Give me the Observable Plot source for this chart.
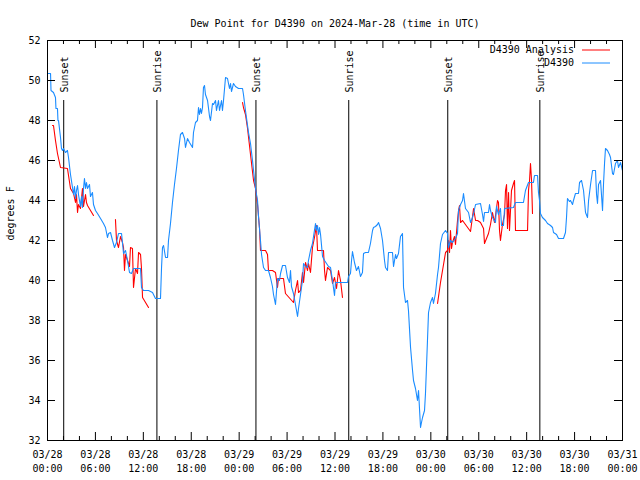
<!DOCTYPE html>
<html>
<head>
<meta charset="utf-8">
<script src="https://cdn.jsdelivr.net/npm/d3@7"></script>
<script src="https://cdn.jsdelivr.net/npm/@observablehq/plot@0.6"></script>
<style>
  html, body { margin: 0; padding: 0; background: #fff; }
</style>
</head>
<body>
<div id="chart"></div>
<script>
// ---- Data (hours since 2024-03-28 00:00 UTC, degrees F) ----
const titleText = "Dew Point for D4390 on 2024-Mar-28 (time in UTC)";
const yLabel = "degrees F";
const seriesNames = ["D4390 Analysis", "D4390"];

const obsHours = [0,0.38,0.44,0.75,1.0,1.06,1.25,1.31,1.38,1.63,1.75,1.88,2.0,2.25,2.5,2.63,2.88,3.13,3.26,3.38,3.51,3.63,3.76,3.88,4.13,4.26,4.38,4.51,4.63,4.76,4.88,5.01,5.26,5.38,5.63,5.76,6.01,6.26,6.64,7.01,7.26,7.51,7.64,7.89,8.14,8.39,8.64,8.89,9.27,9.52,9.77,10.02,10.27,10.52,10.77,11.27,11.65,11.77,12.02,12.65,13.15,13.52,14.15,14.28,14.4,14.53,14.78,15.03,15.15,15.4,15.65,15.9,16.15,16.4,16.65,16.9,17.16,17.28,17.53,17.78,18.16,18.28,18.53,18.78,18.91,19.03,19.16,19.28,19.41,19.53,19.66,19.78,20.04,20.29,20.41,20.66,20.79,21.04,21.16,21.41,21.54,21.79,21.91,22.04,22.29,22.54,22.79,22.92,23.04,23.29,23.54,23.92,24.42,24.54,24.79,25.17,25.42,25.67,25.8,26.05,26.3,26.42,26.67,26.8,27.05,27.3,27.67,27.92,28.17,28.3,28.55,28.8,29.05,29.18,29.43,29.8,30.05,30.3,30.43,30.55,30.8,31.05,31.31,31.43,31.68,31.93,32.06,32.31,32.56,32.68,32.93,33.18,33.31,33.56,33.68,33.81,33.94,34.06,34.19,34.44,34.69,34.94,35.19,35.44,35.69,35.94,36.06,37.57,37.69,37.94,38.07,38.19,38.44,38.69,38.94,39.19,39.44,39.57,39.82,40.19,40.44,40.7,40.82,41.07,41.32,41.45,41.7,41.95,42.2,42.32,42.57,42.7,43.2,43.33,43.58,43.7,43.95,44.2,44.45,44.58,44.83,45.08,45.2,45.46,45.71,45.83,46.08,46.33,46.46,46.58,46.71,46.83,46.96,47.21,47.33,47.58,47.71,47.96,48.21,48.33,48.58,48.84,48.96,49.21,49.46,49.84,50.09,50.21,50.46,50.71,51.09,51.34,51.47,51.72,51.97,52.09,52.34,52.72,52.97,53.22,53.35,53.6,54.22,54.47,54.6,54.72,55.22,55.35,55.47,55.72,56.1,56.22,56.47,56.72,56.85,57.1,57.23,58.35,58.6,59.6,59.85,60.23,60.85,60.98,61.36,61.48,61.61,61.73,61.98,62.36,62.61,62.99,63.24,63.36,63.74,63.99,64.61,64.86,64.99,65.11,65.36,65.49,65.74,65.86,66.11,66.49,66.62,66.87,67.12,67.37,67.62,67.75,68.0,68.25,68.62,68.75,68.87,69.0,69.25,69.5,69.62,69.75,69.87,70.12,70.37,70.5,70.75,70.87,71.12,71.37,71.5,71.75,72.0];
const obsDewF = [50.35,50.35,49.5,49.4,49.15,48.6,48.6,48.0,48.0,47.15,46.6,46.5,46.6,46.4,46.5,46.15,45.3,44.65,44.3,44.7,44.1,44.5,44.75,44.3,43.7,44.2,43.65,44.6,45.1,44.6,44.9,44.6,44.8,44.2,44.4,43.8,43.5,43.35,43.1,42.85,42.65,42.15,42.35,42.4,42.0,41.65,41.9,42.35,42.35,41.35,41.5,41.0,40.4,40.35,40.6,40.6,40.6,39.65,39.5,39.5,39.4,39.1,39.1,40.65,41.65,41.75,41.15,41.15,42.0,42.85,43.9,44.8,45.6,46.5,47.3,47.4,47.1,46.65,47.1,46.9,46.65,47.4,47.9,48.0,48.65,48.3,48.6,48.35,48.65,49.65,49.75,49.3,49.0,48.2,48.0,48.85,48.8,49.0,48.5,49.0,48.5,49.0,48.5,49.0,50.15,50.1,49.6,49.85,49.45,49.85,49.7,49.6,49.6,49.3,48.5,47.4,46.85,46.0,45.5,44.6,44.0,43.2,42.0,41.3,40.65,40.5,40.5,40.15,39.7,39.3,38.8,40.1,40.0,40.35,40.75,40.75,40.15,39.9,40.5,39.7,39.35,38.8,38.2,38.6,39.3,40.0,40.85,40.7,40.65,41.0,41.5,41.85,42.2,42.85,42.5,42.75,42.3,42.65,42.3,41.2,41.0,40.85,40.7,40.65,40.0,39.25,39.9,39.9,40.2,40.35,41.0,41.45,40.9,40.5,40.7,40.2,40.4,41.35,41.4,41.4,41.85,42.5,42.65,42.7,42.8,42.9,42.6,42.0,41.0,40.65,40.5,41.4,41.4,40.7,41.3,41.1,41.35,42.2,42.35,39.65,38.9,39.0,38.5,36.65,35.5,35.0,34.6,34.0,34.5,33.6,32.65,32.9,33.15,33.5,34.35,37.0,38.4,38.9,39.15,38.85,39.35,40.3,40.65,41.85,42.3,42.5,42.35,41.65,42.0,41.9,42.1,42.35,43.5,43.8,44.0,44.35,43.6,43.4,42.9,43.15,43.35,43.8,43.85,43.3,42.95,43.4,43.4,43.8,43.5,43.15,42.9,43.7,43.3,43.6,42.75,42.75,43.6,43.65,43.9,43.9,44.5,44.9,44.9,45.25,45.25,44.4,44.0,43.35,43.15,43.0,42.85,42.75,42.65,42.4,42.3,42.1,42.1,42.4,43.15,44.1,43.95,44.0,43.8,44.0,44.35,44.35,44.9,45.0,44.5,43.4,43.15,44.0,44.8,45.5,45.5,44.3,43.85,44.8,45.0,43.5,44.8,45.85,46.6,46.5,46.3,46.15,45.35,45.3,45.85,46.0,45.65,45.9,45.5];

// Analysis series; null marks a gap in the record
const anaHours = [0.63,0.75,1.0,1.25,1.63,2.5,2.88,3.26,3.51,3.63,3.76,3.88,4.13,4.38,4.51,4.76,4.88,5.01,5.76,7.0,8.51,8.64,8.89,9.14,9.39,9.52,9.64,9.77,10.02,10.27,10.39,10.64,10.77,11.02,11.27,11.4,11.65,11.77,11.9,12.65,18.0,24.42,24.54,24.79,25.05,25.42,25.8,26.05,26.3,26.55,26.67,27.3,27.55,27.67,28.17,28.55,28.8,28.92,29.55,29.8,30.8,31.05,31.31,31.43,31.68,31.93,32.06,32.31,32.56,32.68,32.93,33.18,33.43,33.68,33.81,34.56,34.69,34.81,35.06,35.44,35.69,35.94,36.19,36.44,36.69,36.94,42.0,48.84,49.21,49.59,49.84,50.09,50.21,50.34,50.46,50.59,50.71,50.96,51.09,51.34,51.47,51.59,51.72,51.97,52.97,53.22,53.35,53.6,53.85,54.22,54.6,54.72,54.97,55.22,55.47,55.72,55.97,56.22,56.35,56.47,56.6,56.72,56.97,57.23,57.35,57.48,57.6,57.73,57.85,58.1,58.35,58.48,58.6,60.11,60.23,60.36,60.48,60.61,60.73];
const anaDewF = [47.75,47.75,47.0,46.35,45.65,45.6,44.6,44.35,43.9,44.3,43.4,43.8,43.6,44.6,43.7,44.3,43.9,43.75,43.25,null,43.05,42.0,41.65,42.2,41.9,41.65,40.5,41.3,41.0,40.7,41.65,41.6,39.65,40.6,40.35,41.4,41.3,40.6,39.15,38.65,null,48.9,48.65,48.3,47.6,46.3,45.0,44.6,43.8,42.6,41.5,41.5,41.3,40.5,40.5,40.4,39.65,40.1,40.1,39.35,38.9,39.5,40.0,39.4,39.5,40.4,39.9,40.9,40.5,40.85,40.4,41.65,42.15,42.75,41.5,41.5,40.5,40.0,40.65,40.5,39.85,40.15,39.6,40.5,40.0,39.15,null,38.85,39.9,40.8,41.4,41.5,42.0,41.4,42.5,41.6,41.9,42.2,41.8,43.0,43.5,43.75,42.9,43.0,42.45,43.2,43.6,43.0,43.0,42.9,42.6,41.85,42.1,42.35,42.8,43.4,42.9,43.6,44.0,43.9,42.5,42.0,42.8,43.3,44.5,44.8,42.6,44.4,42.5,44.5,44.85,45.0,42.5,42.5,44.5,45.0,45.85,45.0,43.35];

// Sunset / sunrise times (hours since start)
const sunHours = [2.03, 13.7, 26.1, 37.72, 50.12, 61.65];
const sunLabels = ["Sunset", "Sunrise", "Sunset", "Sunrise", "Sunset", "Sunrise"];

const yTickValues = [32, 34, 36, 38, 40, 42, 44, 46, 48, 50, 52];
const xMajorStepHours = 6;
const xMinorStepHours = 2;
const spanHours = 72;

// ---- Build ----
const t0 = Date.UTC(2024, 2, 28);
const toDate = h => new Date(t0 + h * 3600e3);
const obs = obsHours.map((h, i) => ({t: toDate(h), v: obsDewF[i]}));
const ana = anaHours.map((h, i) => ({t: toDate(h), v: anaDewF[i]}));
const sun = sunHours.map((h, i) => ({t: toDate(h), label: sunLabels[i]}));
const xMajor = d3.range(0, spanHours + 0.001, xMajorStepHours).map(toDate);
const xMinor = d3.range(0, spanHours + 0.001, xMinorStepHours).filter(h => h % xMajorStepHours !== 0).map(toDate);

const W = 640, H = 480, mT = 40, mB = 40, mL = 47, mR = 18;
const fw = W - mL - mR, fh = H - mT - mB;
const font = "DejaVu Sans Mono";
const fmt = d3.utcFormat("%m/%d\n%H:%M");
const blue = "#1a8cff", red = "#ff0000";

const plot = Plot.plot({
  width: W, height: H,
  marginTop: mT, marginBottom: mB, marginLeft: mL, marginRight: mR,
  style: {fontFamily: font, background: "white", color: "black"},
  x: {type: "utc", domain: [toDate(0), toDate(spanHours)], label: null},
  y: {domain: [32, 52], label: null},
  marks: [
    Plot.ruleX(sun, {x: "t", y1: 32, y2: 49, stroke: "black", strokeWidth: 1}),
    Plot.text(sun, {x: "t", y: 49.4, text: "label", rotate: -90, textAnchor: "start", fontSize: 10, fill: "black", dx: 1}),
    Plot.line(ana, {x: "t", y: "v", stroke: red, strokeWidth: 1.1}),
    Plot.line(obs, {x: "t", y: "v", stroke: blue, strokeWidth: 1.1}),
    // ticks (inward, mirrored)
    Plot.tickX(xMajor, {x: d => d, insetTop: fh - 8, stroke: "black"}),
    Plot.tickX(xMajor, {x: d => d, insetBottom: fh - 8, stroke: "black"}),
    Plot.tickX(xMinor, {x: d => d, insetTop: fh - 4, stroke: "black"}),
    Plot.tickX(xMinor, {x: d => d, insetBottom: fh - 4, stroke: "black"}),
    Plot.tickY(yTickValues, {y: d => d, insetRight: fw - 8, stroke: "black"}),
    Plot.tickY(yTickValues, {y: d => d, insetLeft: fw - 8, stroke: "black"}),
    Plot.axisX(xMajor, {tickSize: 0, tickPadding: 8, tickFormat: d => fmt(d), fontSize: 10, lineHeight: 1.4, label: null}),
    Plot.axisY(yTickValues, {tickSize: 0, tickPadding: 7, fontSize: 10, label: null}),
    Plot.frame({stroke: "black", strokeWidth: 1}),
    Plot.text([titleText], {frameAnchor: "top", dy: -21, text: d => d, fontSize: 10, fill: "black"}),
    Plot.text([yLabel], {frameAnchor: "left", dx: -37, rotate: -90, text: d => d, fontSize: 10, fill: "black"})
  ]
});

// legend (top-right inside the frame)
const svg = d3.select(plot);
const legendRows = [{name: seriesNames[0], color: red, y: mT + 10}, {name: seriesNames[1], color: blue, y: mT + 23}];
for (const r of legendRows) {
  svg.append("text").attr("x", 574).attr("y", r.y).attr("dy", "0.32em")
    .attr("text-anchor", "end").attr("font-family", font).attr("font-size", 10)
    .attr("fill", "black").text(r.name);
  svg.append("line").attr("x1", 582).attr("x2", 610).attr("y1", r.y).attr("y2", r.y)
    .attr("stroke", r.color).attr("stroke-width", 1);
}
document.getElementById("chart").appendChild(plot);
</script>
</body>
</html>
